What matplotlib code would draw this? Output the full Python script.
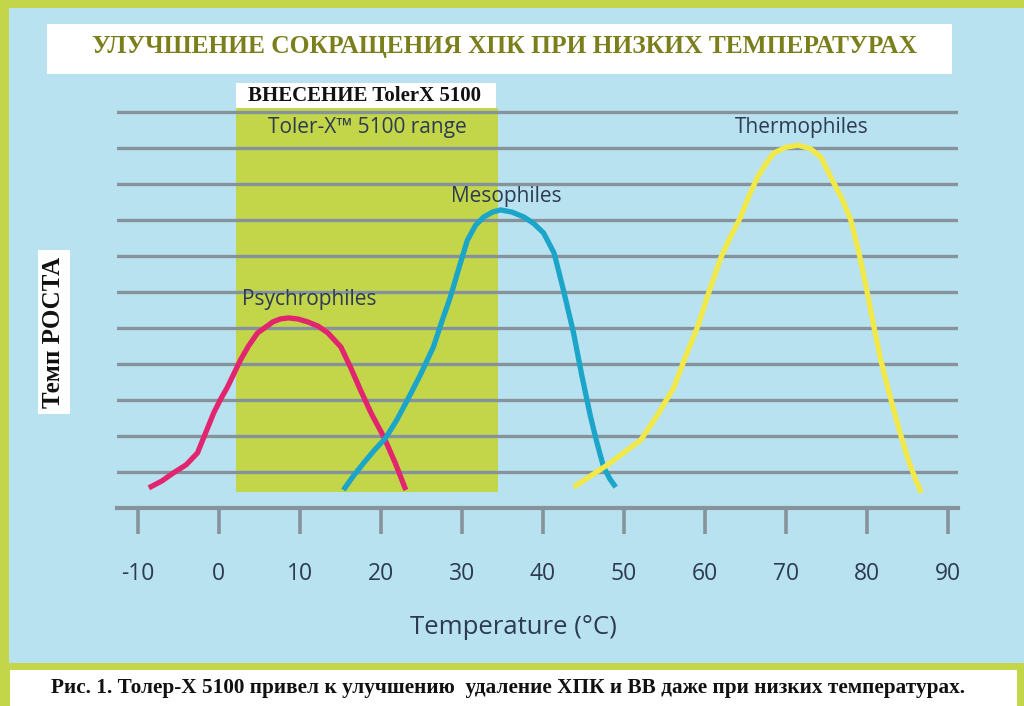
import matplotlib
matplotlib.use("Agg")
import matplotlib.pyplot as plt
from matplotlib.patches import Rectangle

# growth-rate curves (temperature in C, rate in grid units)
psychro_t = [-8.6, -7.0, -5.6, -4.0, -2.6, -0.6, 0.2, 1.1, 2.7, 3.7, 4.8, 6.7, 7.6, 8.6,
             9.8, 11.0, 12.3, 13.5, 15.1, 16.3, 17.5, 18.9, 20.4, 21.8, 23.1]
psychro_r = [0.56, 0.75, 0.97, 1.2, 1.53, 2.64, 3.0, 3.36, 4.11, 4.5, 4.86, 5.17, 5.25, 5.28,
             5.25, 5.17, 5.05, 4.86, 4.47, 3.9, 3.28, 2.6, 1.97, 1.25, 0.5]

meso_t = [15.4, 16.6, 17.9, 19.2, 20.6, 22.0, 23.3, 24.9, 26.5, 27.5, 28.6, 29.7, 30.7, 31.7,
          32.7, 33.8, 34.8, 36.2, 37.7, 38.9, 40.1, 41.4, 42.5, 43.8, 44.8, 45.9, 46.7, 47.5,
          48.3, 49.0]
meso_r = [0.5, 0.88, 1.25, 1.6, 1.94, 2.45, 3.0, 3.7, 4.47, 5.15, 5.86, 6.7, 7.44, 7.85,
          8.08, 8.22, 8.28, 8.22, 8.08, 7.9, 7.64, 7.08, 6.1, 4.86, 3.7, 2.53, 1.8, 1.14,
          0.8, 0.58]

thermo_t = [43.8, 48.0, 52.1, 54.2, 56.2, 57.6, 59.1, 60.5, 62.0, 63.2, 64.4, 65.5, 66.5, 67.5,
            68.5, 70.0, 71.5, 73.0, 74.3, 75.9, 77.0, 78.0, 79.0, 79.9, 80.8, 81.7, 82.5,
            83.3, 84.2, 85.1, 85.9, 86.7]
thermo_r = [0.58, 1.2, 1.89, 2.6, 3.36, 4.2, 5.03, 6.0, 6.97, 7.55, 8.08, 8.7, 9.19, 9.55,
            9.86, 10.02, 10.08, 9.98, 9.75, 9.03, 8.55, 8.0, 7.1, 6.14, 5.1, 4.11, 3.4,
            2.72, 2.0, 1.33, 0.85, 0.42]

# Toler-X 5100 working range
range_lo, range_hi = 2.2, 34.5
range_bottom, range_top = 0.45, 11.1

x_ticks = [-10, 0, 10, 20, 30, 40, 50, 60, 70, 80, 90]
grid_levels = [1, 2, 3, 4, 5, 6, 7, 8, 9, 10, 11]

title = "УЛУЧШЕНИЕ СОКРАЩЕНИЯ ХПК ПРИ НИЗКИХ ТЕМПЕРАТУРАХ"
caption = "Рис. 1. Толер-X 5100 привел к улучшению  удаление ХПК и ВВ даже при низких температурах."

green = "#c3d64a"
blue = "#b9e2f1"
grey = "#86939b"
ink = "#2c3a52"

W, H = 1024, 706
fig = plt.figure(figsize=(W / 100, H / 100), dpi=100, facecolor=green)

def box(x0, y0, x1, y1, color):
    # rectangle in pixel coords measured from the top-left corner
    fig.patches.append(Rectangle((x0 / W, 1 - y1 / H), (x1 - x0) / W, (y1 - y0) / H,
                                 transform=fig.transFigure, facecolor=color,
                                 edgecolor="none", zorder=-1))

box(9, 8, W, 663, blue)
box(10, 670, 1017, H, "white")
box(47, 24, 952, 74, "white")
box(236, 83, 496, 108, "white")
box(38, 250, 70, 414, "white")

ax = fig.add_axes([117 / W, 1 - 544 / H, 841 / W, (544 - 90.4) / H])
ax.set_facecolor("none")
ax.set_xlim(-12.53, 91.23)
ax.set_ylim(-1.0, 11.6)

ax.add_patch(Rectangle((range_lo, range_bottom), range_hi - range_lo, range_top - range_bottom,
                       facecolor=green, edgecolor="none", zorder=0.2))

ax.set_yticks(grid_levels)
ax.yaxis.grid(True, color=grey, linewidth=2.4)
ax.set_axisbelow(True)
ax.tick_params(axis="y", left=False, labelleft=False)

for s in ["top", "left", "right"]:
    ax.spines[s].set_visible(False)
ax.spines["bottom"].set_position(("data", 0))
ax.spines["bottom"].set_color(grey)
ax.spines["bottom"].set_linewidth(3)
ax.set_xticks(x_ticks)
ax.set_xticklabels([str(t) for t in x_ticks])
ax.tick_params(axis="x", direction="out", length=19, width=2.6, color=grey,
               pad=20, labelsize=16.5, labelcolor=ink)
for lab in ax.get_xticklabels():
    lab.set_family("Open Sans")

ax.set_xlabel("Temperature (°C)", fontsize=18.5, color=ink, family="Open Sans", va="center")
ax.xaxis.set_label_coords((513 - 117) / 841, (544 - 627) / 453.6)

kw = dict(lw=3.8, solid_capstyle="butt", solid_joinstyle="round", zorder=3)
ax.plot(psychro_t, psychro_r, color="#e1256f", **kw)
ax.plot(meso_t, meso_r, color="#1ba5c8", **kw)
ax.plot(thermo_t, thermo_r, color="#f1e84a", **kw)

lbl = dict(fontsize=15, color=ink, family="Open Sans", ha="center", va="center")
ax.text(18.4, 10.56, "Toler-X™ 5100 range", **lbl)
ax.text(11.2, 5.78, "Psychrophiles", **lbl)
ax.text(35.5, 8.64, "Mesophiles", **lbl)
ax.text(71.9, 10.58, "Thermophiles", **lbl)

fig.text(505 / W, 1 - 46 / H, title, fontsize=18.4, fontweight="bold", color="#7a7f1c",
         family="Liberation Serif", ha="center", va="center")
fig.text(365 / W, 1 - 96 / H, "ВНЕСЕНИЕ TolerX 5100", fontsize=15, fontweight="bold",
         color="#111111", family="Liberation Serif", ha="center", va="center")
fig.text(54 / W, 1 - 332 / H, "Темп РОСТА", fontsize=18, fontweight="bold", rotation=90,
         color="#111111", family="Liberation Serif", ha="center", va="center")
fig.text(508 / W, 1 - 688 / H, caption, fontsize=15.3, fontweight="bold",
         color="#111111", family="Liberation Serif", ha="center", va="center")

fig.savefig("out.png", dpi=100, facecolor=green)
